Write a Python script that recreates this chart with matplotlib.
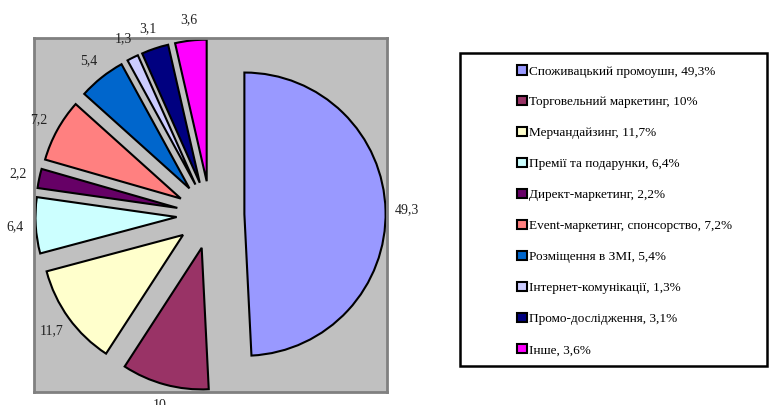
import matplotlib.pyplot as plt
from matplotlib.patches import Patch, Rectangle

plt.rcParams['font.family'] = ['Liberation Serif', 'DejaVu Serif']

names = ['Споживацький промоушн', 'Торговельний маркетинг', 'Мерчандайзинг',
         'Премії та подарунки', 'Директ-маркетинг', 'Event-маркетинг, спонсорство',
         'Розміщення в ЗМІ', 'Інтернет-комунікації', 'Промо-дослідження', 'Інше']
shares = [49.3, 10, 11.7, 6.4, 2.2, 7.2, 5.4, 1.3, 3.1, 3.6]
colors = ['#9999FF', '#993366', '#FFFFCC', '#CCFFFF', '#660066',
          '#FF8080', '#0066CC', '#CCCCFF', '#000080', '#FF00FF']


def fmt(v):
    return ('%g' % v).replace('.', ',')


W, H = 770, 405
fig = plt.figure(figsize=(W / 100, H / 100), dpi=100)

# область діаграми (сірий квадрат)
ax = fig.add_axes([34 / W, (H - 392) / H, (387 - 34) / W, (392 - 38) / H])
ax.set_facecolor('#C0C0C0')
for s in ax.spines.values():
    s.set_color('#808080')
    s.set_linewidth(2)

wedges, texts = ax.pie(shares, colors=colors, labels=[fmt(v) for v in shares],
                       explode=[0.24] * len(shares), startangle=90, counterclock=False,
                       labeldistance=1.15, radius=1.0,
                       wedgeprops=dict(edgecolor='black', linewidth=1.5),
                       textprops=dict(fontsize=10, color='#222222'), frame=True)
for t in texts:
    t.set_ha('center')
    t.set_va('center')
    t.set_clip_on(False)
for w in wedges:
    w.set_clip_on(False)
ax.set_xlim(-1.25, 1.25)
ax.set_ylim(-1.25, 1.25)
ax.set_aspect('auto')
ax.set_xticks([])
ax.set_yticks([])

# легенда у рамці
fig.add_artist(Rectangle((460 / W, (H - 366) / H), (767 - 460) / W, (366 - 53) / H,
                         transform=fig.transFigure, facecolor='white',
                         edgecolor='black', linewidth=1.8))
handles = [Patch(facecolor=c, edgecolor='black', linewidth=1.5) for c in colors]
labels = ['%s, %s%%' % (n, fmt(v)) for n, v in zip(names, shares)]
fig.legend(handles, labels, loc='upper left', bbox_to_anchor=(512 / W, (H - 60) / H),
           frameon=False, fontsize=9.5, handlelength=0.7, handleheight=0.7,
           handletextpad=0.2, labelspacing=1.42, borderaxespad=0,
           labelcolor='black')

fig.savefig('out.png', dpi=100)
